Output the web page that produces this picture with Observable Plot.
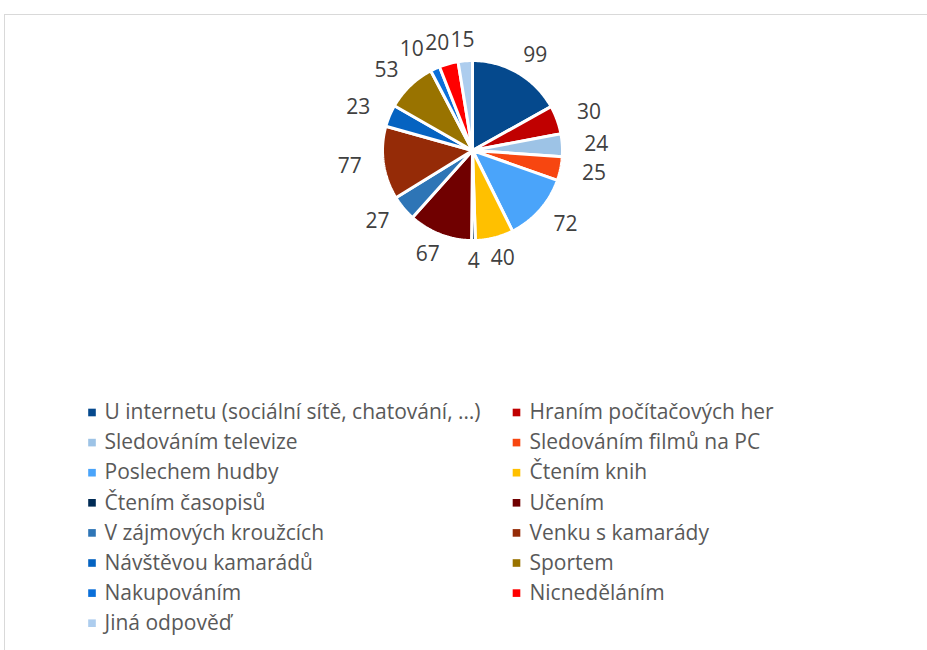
<!DOCTYPE html>
<html><head><meta charset="utf-8">
<script src="https://cdn.jsdelivr.net/npm/d3@7"></script>
<script src="https://cdn.jsdelivr.net/npm/@observablehq/plot@0.6"></script>
<style>
body{margin:0;background:#fff;}
#frame{position:absolute;left:4px;top:14px;width:1000px;height:700px;border:1px solid #d9d9d9;box-sizing:border-box;}
#chart{position:absolute;left:0;top:0;}
</style></head><body>
<div id="frame"></div><div id="chart"></div>
<script>
const categories = [
  "U internetu (sociální sítě, chatování, …)",
  "Hraním počítačových her",
  "Sledováním televize",
  "Sledováním filmů na PC",
  "Poslechem hudby",
  "Čtením knih",
  "Čtením časopisů",
  "Učením",
  "V zájmových kroužcích",
  "Venku s kamarády",
  "Návštěvou kamarádů",
  "Sportem",
  "Nakupováním",
  "Nicneděláním",
  "Jiná odpověď"
];
const values = [99, 30, 24, 25, 72, 40, 4, 67, 27, 77, 23, 53, 10, 20, 15];
const colors = [
  "#05498D", "#C00000", "#9DC3E6", "#F74610", "#4AA4FA",
  "#FFC000", "#002B55", "#700000", "#2E75B6", "#952B07",
  "#0563C1", "#997300", "#0A6FD9", "#FF0000", "#ADCDEE"
];

const cx = 472, cy = 150, R = 90, LA = 124, LB = 111, FS = 21;
const arcs = d3.pie().sort(null).value(d => d)(values);
const polys = [];
arcs.forEach((a, i) => {
  const n = Math.max(2, Math.ceil((a.endAngle - a.startAngle) / 0.02));
  polys.push({c: categories[i], x: cx, y: cy});
  for (let k = 0; k <= n; k++) {
    const t = a.startAngle + (a.endAngle - a.startAngle) * k / n;
    polys.push({c: categories[i], x: cx + R * Math.sin(t), y: cy - R * Math.cos(t)});
  }
});
const labels = arcs.map((a, i) => {
  const m = (a.startAngle + a.endAngle) / 2;
  return {v: values[i], x: cx + LA * Math.sin(m), y: cy - LB * Math.cos(m)};
});
// simple collision pass for crowded labels at the top (push leftwards)
const halfW = d => 0.58 * FS * String(d.v).length / 2;
const crowded = labels.filter(d => d.y < cy - 60 && d.x <= cx).sort((a, b) => b.x - a.x);
for (let k = 1; k < crowded.length; k++) {
  const p = crowded[k - 1], q = crowded[k];
  if (Math.abs(p.y - q.y) < 18 && q.x + halfW(q) > p.x - halfW(p) - 1) q.x = p.x - halfW(p) - 1 - halfW(q);
}
const legend = categories.map((c, i) => ({c, col: i % 2, row: Math.floor(i / 2)}));
const lx = col => col ? 516 : 91.5;
const tx = col => col ? 529 : 104;
const ly = row => 412 + row * 30.1;

const plot = Plot.plot({
  width: 927, height: 650,
  margin: 0,
  style: {fontFamily: "Open Sans", background: "transparent"},
  x: {type: "linear", domain: [0, 927], range: [0, 927], axis: null},
  y: {type: "linear", domain: [0, 650], range: [0, 650], axis: null},
  color: {type: "ordinal", domain: categories, range: colors},
  marks: [
    Plot.line(polys, {x: "x", y: "y", z: "c", fill: "c", stroke: "white", strokeWidth: 3, curve: "linear-closed", strokeLinejoin: "miter"}),
    Plot.text(labels, {x: "x", y: "y", text: d => String(d.v), fill: "#404040", fontSize: FS, fontFamily: "Open Sans"}),
    Plot.dot(legend, {x: d => lx(d.col), y: d => ly(d.row), fill: "c", symbol: "square", r: 4.3, stroke: null}),
    Plot.text(legend, {x: d => tx(d.col), y: d => ly(d.row), text: "c", textAnchor: "start", fill: "#595959", fontSize: 21, fontFamily: "Open Sans"})
  ]
});
document.getElementById("chart").appendChild(plot);
</script>
</body></html>
